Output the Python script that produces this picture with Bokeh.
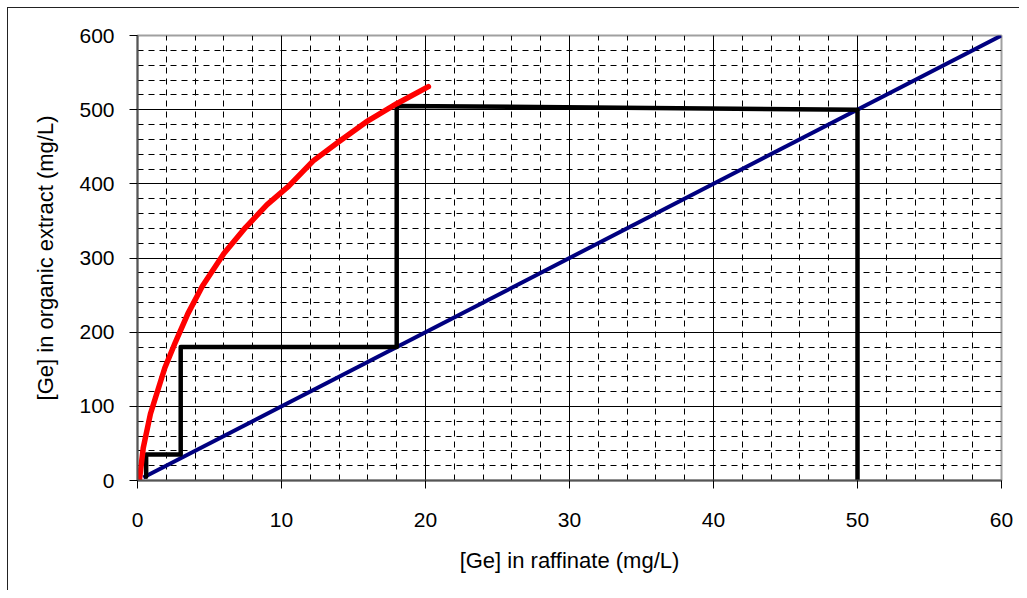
from bokeh.plotting import figure
from bokeh.models import Range1d, FixedTicker
from bokeh.embed import file_html
from bokeh.resources import INLINE

# Equilibrium (extraction isotherm) curve
iso_x = [0.05, 0.4, 0.9, 1.4, 1.9, 2.6, 3.5, 4.5, 6.0, 7.5, 9.0, 10.5, 12.2, 14.0, 16.0, 18.0, 20.2]
iso_y = [-13, 44, 90, 121, 152, 185, 225, 262, 306, 341, 372, 397, 431, 457, 485, 508, 531]

# Operating line
op_x = [0.4, 60]
op_y = [4, 600]

# McCabe-Thiele stages
stage_x = [50, 50, 18, 18, 3, 3, 0.6, 0.6]
stage_y = [0, 500, 505, 180, 180, 35, 35, 5]

x_ticks = [0, 10, 20, 30, 40, 50, 60]
y_ticks = [0, 100, 200, 300, 400, 500, 600]

FONT = "Liberation Sans"

bg = ("linear-gradient(#222222, #222222) 7px 7px / 1px 100% no-repeat, "
      "linear-gradient(#222222, #222222) 7px 7px / 100% 1px no-repeat, white")

p = figure(width=1019, height=590, output_backend="svg", toolbar_location=None,
           x_range=Range1d(0, 60), y_range=Range1d(0, 600),
           min_border_left=137, min_border_right=18, min_border_top=35, min_border_bottom=110,
           background_fill_color="white", border_fill_color=None,
           styles={"background": bg})

p.xaxis.ticker = FixedTicker(ticks=x_ticks, minor_ticks=list(range(0, 61, 2)))
p.yaxis.ticker = FixedTicker(ticks=y_ticks, minor_ticks=list(range(0, 601, 20)))

for ax in (p.xaxis[0], p.yaxis[0]):
    ax.axis_line_color = "#555555"
    ax.axis_line_width = 2
    ax.major_tick_line_color = "#000000"
    ax.major_tick_in = 0
    ax.major_tick_out = 8
    ax.minor_tick_line_color = None
    ax.major_label_text_font = FONT
    ax.major_label_text_font_size = "21px"
    ax.major_label_text_color = "#000000"
    ax.axis_label_text_font = FONT
    ax.axis_label_text_font_size = "22px"
    ax.axis_label_text_font_style = "normal"
    ax.axis_label_text_color = "#000000"

p.xaxis.axis_label = "[Ge] in raffinate (mg/L)"
p.yaxis.axis_label = "[Ge] in organic extract (mg/L)"
p.xaxis.major_label_standoff = 24
p.yaxis.major_label_standoff = 15
p.xaxis.axis_label_standoff = 18
p.yaxis.axis_label_standoff = 18

for g in (p.xgrid[0], p.ygrid[0]):
    g.grid_line_color = "#000000"
    g.grid_line_width = 1
    g.minor_grid_line_color = "#000000"
    g.minor_grid_line_dash = "6 5"
    g.minor_grid_line_width = 1

p.outline_line_color = "#a0a0a0"
p.outline_line_width = 2

p.line(op_x, op_y, line_color="#000080", line_width=4)
p.line(stage_x, stage_y, line_color="#000000", line_width=4.5, line_join="round", line_cap="round")
p.line(iso_x, iso_y, line_color="#ff0000", line_width=5.5, line_join="round", line_cap="round")

open("out.html", "w").write(file_html(p, INLINE))
